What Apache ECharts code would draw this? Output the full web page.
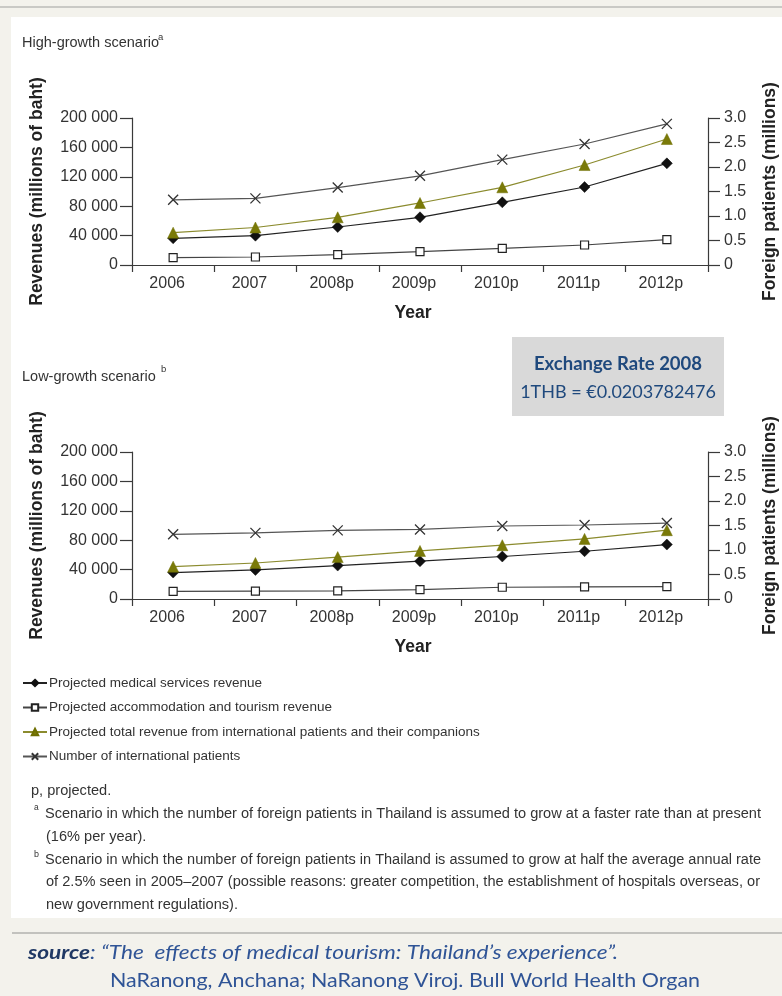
<!DOCTYPE html>
<html>
<head>
<meta charset="utf-8">
<script src="https://cdn.jsdelivr.net/npm/echarts@6/dist/echarts.min.js"></script>
<style>
html,body{margin:0;padding:0;background:#f3f2ec;}
#c{width:782px;height:996px;}
</style>
</head>
<body>
<div id="c"></div>
<script>
var categories = ['2006','2007','2008p','2009p','2010p','2011p','2012p'];
var seriesNames = ['Projected medical services revenue','Projected accommodation and tourism revenue','Projected total revenue from international patients and their companions','Number of international patients'];
// High-growth scenario
var medicalHigh = [36300, 39900, 51700, 64900, 85300, 106100, 138300];
var accomHigh = [10000, 10900, 14000, 18100, 22700, 27200, 34500];
var totalHigh = [44000, 51000, 64900, 84400, 105700, 136000, 171400];
var patientsHigh = [1.33, 1.36, 1.58, 1.82, 2.15, 2.47, 2.88];
// Low-growth scenario
var medicalLow = [36000, 39500, 45500, 51400, 57800, 65000, 74100];
var accomLow = [10500, 10700, 11000, 12800, 16000, 16400, 16800];
var totalLow = [44000, 49000, 57000, 65400, 73200, 81800, 93600];
var patientsLow = [1.32, 1.35, 1.40, 1.42, 1.49, 1.51, 1.55];
// Axis ticks
var revenueTicks = {min: 0, max: 200000, interval: 40000};
var patientTicks = {min: 0, max: 3, interval: 0.5};

var FONT = '"Liberation Sans", Arial, sans-serif';
var CAL = 'Lato, "Open Sans", sans-serif';
var axisColor = '#3a3a3a';
var textColor = '#333';

var mctx = document.createElement('canvas').getContext('2d');
function measure(font, text){ mctx.font = font; return mctx.measureText(text).width; }

function revFmt(v){ return v === 0 ? '0' : (v/1000) + ' 000'; }
function patFmt(v){ return v === 0 ? '0' : v.toFixed(1); }

function xAxisFor(gi){
  return {
    type: 'category', gridIndex: gi, data: categories, boundaryGap: true,
    name: 'Year', nameLocation: 'middle', nameGap: 39,
    nameTextStyle: {fontFamily: FONT, fontWeight: 'bold', fontSize: 17.5, color: '#222', padding: [0, 14, 0, 0]},
    axisLine: {show: true, lineStyle: {color: axisColor, width: 1.2}},
    axisTick: {show: true, length: 7, inside: false, lineStyle: {color: axisColor, width: 1.2}},
    axisLabel: {fontFamily: FONT, fontSize: 16, color: textColor, margin: 11, padding: [0, 12, 0, 0]},
    splitLine: {show: false}
  };
}
function yLeftFor(gi){
  return {
    type: 'value', gridIndex: gi, position: 'left', min: revenueTicks.min, max: revenueTicks.max, interval: revenueTicks.interval,
    name: 'Revenues (millions of baht)', nameLocation: 'middle', nameGap: 86,
    nameTextStyle: {fontFamily: FONT, fontWeight: 'bold', fontSize: 17.5, color: '#222'},
    axisLine: {show: true, lineStyle: {color: axisColor, width: 1.2}},
    axisTick: {show: true, length: 12, lineStyle: {color: axisColor, width: 1.2}},
    axisLabel: {fontFamily: FONT, fontSize: 16, color: textColor, margin: 14, formatter: revFmt},
    splitLine: {show: false}
  };
}
function yRightFor(gi){
  return {
    type: 'value', gridIndex: gi, position: 'right', min: patientTicks.min, max: patientTicks.max, interval: patientTicks.interval,
    name: 'Foreign patients (millions)', nameLocation: 'middle', nameGap: 53,
    nameTextStyle: {fontFamily: FONT, fontWeight: 'bold', fontSize: 17.5, color: '#222'},
    axisLine: {show: true, lineStyle: {color: axisColor, width: 1.2}},
    axisTick: {show: true, length: 12, lineStyle: {color: axisColor, width: 1.2}},
    axisLabel: {fontFamily: FONT, fontSize: 16, color: textColor, margin: 16, formatter: patFmt},
    splitLine: {show: false}
  };
}

var styles = [
  {symbol: 'diamond', symbolSize: 11, itemStyle: {color: '#111', borderColor: '#111', borderWidth: 0.5}, lineStyle: {color: '#222', width: 1.2}},
  {symbol: 'rect', symbolSize: 8, itemStyle: {color: '#fff', borderColor: '#222', borderWidth: 1.2}, lineStyle: {color: '#444', width: 1.2}},
  {symbol: 'triangle', symbolSize: 11, itemStyle: {color: '#7a7a08', borderColor: '#6e6e00', borderWidth: 0.5}, lineStyle: {color: '#8b8b2e', width: 1.2}},
  {symbol: 'path://M0,0L10,10M10,0L0,10', symbolSize: 10, itemStyle: {color: 'rgba(0,0,0,0)', borderColor: '#333', borderWidth: 1.3}, lineStyle: {color: '#555', width: 1.2}}
];

function mk(idx, data, xi, yi){
  var s = styles[idx];
  return {
    name: seriesNames[idx], type: 'line', data: data, xAxisIndex: xi, yAxisIndex: yi,
    symbol: s.symbol, symbolSize: s.symbolSize, showAllSymbol: true, itemStyle: s.itemStyle, lineStyle: s.lineStyle,
    emphasis: {disabled: true}, animation: false, z: 3 + idx
  };
}

function txt(x, y, text, font, fill, extra, sx){
  var st = {text: text, x: 0, y: 0, font: font, fill: fill, align: 'left', verticalAlign: 'middle'};
  if (extra) for (var k in extra) st[k] = extra[k];
  var el = {type: 'text', x: x, y: y, z: 10, silent: true, style: st};
  if (sx) { el.scaleX = sx; }
  return el;
}

// footnote text: condensed to match the narrow face of the original
var footFont = '15.5px ' + FONT;
var footA1 = 'Scenario in which the number of foreign patients in Thailand is assumed to grow at a faster rate than at present';
var footB1 = 'Scenario in which the number of foreign patients in Thailand is assumed to grow at half the average annual rate';
var footB2 = 'of 2.5% seen in 2005–2007 (possible reasons: greater competition, the establishment of hospitals overseas, or';
var footScale = 716 / measure(footFont, footA1);
var b1Scale = 716 / measure(footFont, footB1);
var b2Scale = 714 / measure(footFont, footB2);

var srcBold = 'italic bold 19px ' + CAL, srcIt = 'italic 19px ' + CAL;
var srcRest = ': “The  effects of medical tourism: Thailand’s experience”.';
var srcScale = 590 / (measure(srcBold, 'source') + measure(srcIt, srcRest));
var src2 = 'NaRanong, Anchana; NaRanong Viroj. Bull World Health Organ';
var src2Font = '19px ' + CAL;
var src2Scale = 590 / measure(src2Font, src2);

var graphics = [
  {type: 'rect', z: -20, silent: true, shape: {x: 0, y: 0, width: 782, height: 996}, style: {fill: '#f3f2ec'}},
  {type: 'line', z: -19, silent: true, shape: {x1: 0, y1: 7, x2: 782, y2: 7}, style: {stroke: '#c9c9c5', lineWidth: 2}},
  {type: 'rect', z: -19, silent: true, shape: {x: 11, y: 17, width: 771, height: 901}, style: {fill: '#ffffff'}},
  {type: 'line', z: -19, silent: true, shape: {x1: 12, y1: 933, x2: 782, y2: 933}, style: {stroke: '#c2c2be', lineWidth: 2}},
  {type: 'rect', z: -18, silent: true, shape: {x: 512, y: 337, width: 212, height: 79}, style: {fill: '#d9d9d9'}},
  txt(618, 364, 'Exchange Rate 2008', 'bold 18.5px ' + CAL, '#1f497d', {align: 'center'}),
  txt(618, 392, '1THB = €0.0203782476', '18px ' + CAL, '#1f497d', {align: 'center'}),
  txt(22, 43, 'High-growth scenario', '14.5px ' + FONT, '#333'),
  txt(158, 37, 'a', '9.5px ' + FONT, '#333'),
  txt(22, 377, 'Low-growth scenario', '14.5px ' + FONT, '#333'),
  txt(161, 369, 'b', '9.5px ' + FONT, '#333'),
  txt(31, 791, 'p, projected.', footFont, '#333', null, footScale),
  txt(34, 808, 'a', '9px ' + FONT, '#333', null, footScale),
  txt(45, 814, footA1, footFont, '#333', null, footScale),
  txt(46, 837, '(16% per year).', footFont, '#333', null, footScale),
  txt(34, 854, 'b', '9.5px ' + FONT, '#333', null, footScale),
  txt(45, 860, footB1, footFont, '#333', null, b1Scale),
  txt(46, 882, footB2, footFont, '#333', null, b2Scale),
  txt(46, 905, 'new government regulations).', footFont, '#333', null, footScale),
  {type: 'text', x: 28, y: 953, z: 10, silent: true, scaleX: srcScale, style: {
    text: '{b|source}{i|' + srcRest + '}',
    verticalAlign: 'middle', align: 'left',
    rich: {
      b: {font: srcBold, fill: '#1f3864'},
      i: {font: srcIt, fill: '#2f5496'}
    }
  }},
  txt(110, 981, src2, src2Font, '#2f5496', null, src2Scale)
];

var chart = echarts.init(document.getElementById('c'), null, {renderer: 'canvas'});
chart.setOption({
  animation: false,
  textStyle: {fontFamily: FONT},
  grid: [
    {left: 132, top: 118, width: 576, height: 147, containLabel: false, outerBoundsMode: 'none'},
    {left: 132, top: 452, width: 576, height: 147, containLabel: false, outerBoundsMode: 'none'}
  ],
  xAxis: [xAxisFor(0), xAxisFor(1)],
  yAxis: [yLeftFor(0), yRightFor(0), yLeftFor(1), yRightFor(1)],
  legend: {
    orient: 'vertical', left: 17, top: 670, itemWidth: 24, itemHeight: 8, itemGap: 8.5,
    data: seriesNames, selectedMode: false,
    textStyle: {fontFamily: FONT, fontSize: 13.5, color: '#333', lineHeight: 16, padding: [0, 0, 0, -3]}
  },
  series: [
    mk(0, medicalHigh, 0, 0), mk(1, accomHigh, 0, 0), mk(2, totalHigh, 0, 0), mk(3, patientsHigh, 0, 1),
    mk(0, medicalLow, 1, 2), mk(1, accomLow, 1, 2), mk(2, totalLow, 1, 2), mk(3, patientsLow, 1, 3)
  ],
  graphic: {elements: graphics}
});
</script>
</body>
</html>
